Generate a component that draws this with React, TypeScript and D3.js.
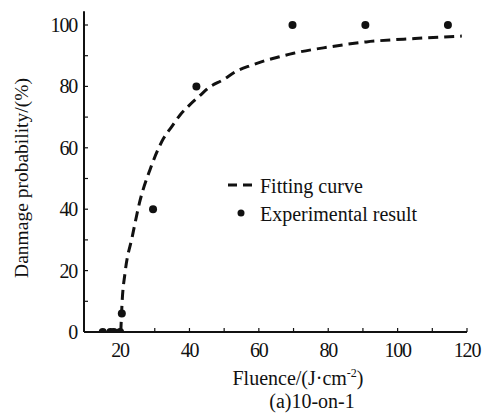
import React, { useEffect, useRef } from "react";
import * as d3 from "d3";

// experimental points (fluence J/cm2, damage probability %)
const expFluence = [15, 17.2, 18.2, 20, 20.5, 29.5, 42, 69.7, 90.7, 114.5];
const expProb = [0, 0, 0, 0, 6, 40, 80, 100, 100, 100];

// fitting curve
const fitFluence = [20.2, 20.6, 21.4, 23.5, 25.8, 28.6, 32.5, 34.9, 37.3, 40, 42.9, 45.7, 49.6, 53.8, 57.9, 61.8, 66.1, 70, 80, 91, 105, 118.5];
const fitProb = [0, 10, 19, 31, 43, 52.8, 63, 66.9, 70.7, 73.9, 76.9, 79.7, 82.1, 85.1, 86.9, 88.4, 89.7, 90.8, 92.8, 94.5, 95.6, 96.4];

const xTicks = [20, 40, 60, 80, 100, 120];
const xMinor = [30, 50, 70, 90, 110];
const yTicks = [0, 20, 40, 60, 80, 100];
const yMinor = [10, 30, 50, 70, 90];

const FONT = "Liberation Serif, Times New Roman, serif";

export default function App() {
  const ref = useRef<SVGSVGElement>(null);

  useEffect(() => {
    const svg = d3.select(ref.current);
    svg.selectAll("*").remove();

    const x = d3.scaleLinear().domain([9.6, 120]).range([84, 467]);
    const y = d3.scaleLinear().domain([0, 100]).range([332, 25]);

    svg.append("defs").append("clipPath").attr("id", "plotclip")
      .append("rect").attr("x", 84).attr("y", 0).attr("width", 400).attr("height", y(0));

    const g = svg.append("g").style("font-family", FONT).attr("fill", "#111");

    // axes lines
    g.append("line").attr("x1", x(9.6)).attr("x2", x(9.6)).attr("y1", y(104.5)).attr("y2", y(0))
      .attr("stroke", "#111").attr("stroke-width", 2);
    g.append("line").attr("x1", x(9.6)).attr("x2", x(120)).attr("y1", y(0)).attr("y2", y(0))
      .attr("stroke", "#111").attr("stroke-width", 2);

    // x ticks (inward)
    g.selectAll(".xt").data(xTicks.concat(xMinor)).join("line")
      .attr("x1", (d) => x(d)).attr("x2", (d) => x(d))
      .attr("y1", y(0)).attr("y2", y(0) - 4)
      .attr("stroke", "#111").attr("stroke-width", 1.2);
    g.selectAll(".xl").data(xTicks).join("text")
      .attr("x", (d) => x(d)).attr("y", 357)
      .attr("text-anchor", "middle")
      .style("font-size", "20px").style("letter-spacing", "-1.2px")
      .text((d) => d);

    // y ticks (inward)
    g.selectAll(".yt").data(yTicks.concat(yMinor)).join("line")
      .attr("x1", x(9.6)).attr("x2", x(9.6) + 4)
      .attr("y1", (d) => y(d)).attr("y2", (d) => y(d))
      .attr("stroke", "#111").attr("stroke-width", 1.2);
    g.selectAll(".yl").data(yTicks).join("text")
      .attr("x", 77).attr("y", (d) => y(d) + 7)
      .attr("text-anchor", "end")
      .style("font-size", "20px").style("letter-spacing", "-1.2px")
      .text((d) => d);

    // fitting curve
    const pts: [number, number][] = fitFluence.map((f, i) => [f, fitProb[i]]);
    const line = d3.line<[number, number]>()
      .x((d) => x(d[0])).y((d) => y(d[1]))
      .curve(d3.curveMonotoneX);
    g.append("path").datum(pts)
      .attr("d", line)
      .attr("fill", "none").attr("stroke", "#111")
      .attr("stroke-width", 3).attr("stroke-dasharray", "10,6");

    // experimental points
    g.append("g").attr("clip-path", "url(#plotclip)")
      .selectAll("circle").data(expFluence).join("circle")
      .attr("cx", (d) => x(d)).attr("cy", (_d, i) => y(expProb[i]))
      .attr("r", 4).attr("fill", "#111");

    // legend
    g.append("line").attr("x1", 228).attr("x2", 252).attr("y1", 185).attr("y2", 185)
      .attr("stroke", "#111").attr("stroke-width", 3).attr("stroke-dasharray", "9,6");
    g.append("text").attr("x", 260).attr("y", 193)
      .style("font-size", "20px")
      .text("Fitting curve");
    g.append("circle").attr("cx", 241).attr("cy", 213).attr("r", 3.5).attr("fill", "#111");
    g.append("text").attr("x", 260).attr("y", 221)
      .style("font-size", "20px")
      .text("Experimental result");

    // axis titles
    const xt = g.append("text").attr("x", 298).attr("y", 385)
      .attr("text-anchor", "middle")
      .style("font-size", "20px");
    xt.append("tspan").text("Fluence/(J·cm");
    xt.append("tspan").style("font-size", "12px").attr("dy", -8).text("-2");
    xt.append("tspan").attr("dy", 8).text(")");

    g.append("text").attr("transform", "translate(28,178) rotate(-90)")
      .attr("text-anchor", "middle")
      .style("font-size", "19.5px")
      .text("Danmage probability/(%)");

    g.append("text").attr("x", 312).attr("y", 408)
      .attr("text-anchor", "middle")
      .style("font-size", "20px")
      .text("(a)10-on-1");
  }, []);

  return (
    <svg ref={ref} width={484} height={418}
      style={{ position: "absolute", left: 0, top: 0, background: "#fff" }} />
  );
}
